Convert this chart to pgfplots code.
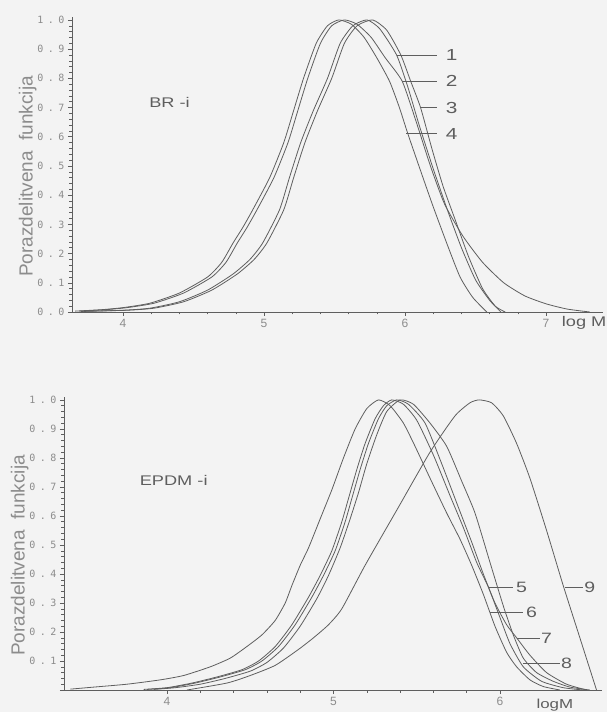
\documentclass[border=0pt]{standalone}
\usepackage{fontspec}
\setmainfont{Liberation Sans}
\newfontfamily\monofont{DejaVu Sans Mono}
\usepackage{graphicx}
\usepackage{pgfplots}
\pgfplotsset{compat=1.18}
\definecolor{bg}{HTML}{F3F3F3}
\definecolor{ink}{HTML}{5E5E5E}
\definecolor{lbl}{HTML}{8C8C8C}
\newcommand{\sx}[1]{\scalebox{1.3}[1]{#1}}
\newcommand{\yl}[2]{#1\hspace{4.5pt}.\hspace{4.5pt}#2}

\pgfplotsset{
 panel/.style={
  scale only axis, clip=false, enlargelimits=false,
  axis lines=left, axis line style={-, draw=ink, line width=0.7pt},
  tick align=outside, tick style={draw=ink, line width=0.5pt},
  major tick length=4pt, minor tick length=2.5pt,
  minor x tick num=4,
  /pgf/number format/assume math mode=true,
  xticklabel style={font=\fontsize{12}{12}\selectfont, text=lbl},
  yticklabel style={font=\monofont\fontsize{10}{10}\selectfont, text=lbl},
  ylabel style={font=\fontsize{19}{19}\selectfont, text=lbl, xshift=-12pt, yshift=-6pt},
  ylabel={Porazdelitvena\ \ funkcija},
 },
 crv/.style={draw=ink, line width=0.8pt, smooth, tension=0.35, mark=none},
}

\begin{document}
\begin{tikzpicture}
\fill[bg] (0pt,0pt) rectangle (607pt,712pt);
\path[use as bounding box] (0pt,0pt) rectangle (607pt,712pt);

% ---------------- BR-i ----------------
\begin{axis}[panel, at={(72pt,400pt)}, anchor=south west,
  width=531pt, height=295pt,
  xmin=3.638, xmax=7.404, ymin=0, ymax=1.01,
  xtick={4,5,6,7},
  ytick={0,0.1,0.2,0.3,0.4,0.5,0.6,0.7,0.8,0.9,1.0},
  yticklabels={\yl00,\yl01,\yl02,\yl03,\yl04,\yl05,\yl06,\yl07,\yl08,\yl09,\yl10},
  minor y tick num=4]
% curve 1
\addplot[crv] coordinates {(3.70,0.002)(4.00,0.006)(4.19,0.013)(4.40,0.035)(4.60,0.075)(4.78,0.13)(4.90,0.18)(4.99,0.236)(5.11,0.35)(5.18,0.46)(5.26,0.58)(5.35,0.69)(5.45,0.80)(5.54,0.92)(5.63,0.98)(5.73,1.00)(5.82,0.97)(5.94,0.88)(6.02,0.77)(6.10,0.64)(6.20,0.49)(6.30,0.35)(6.40,0.22)(6.50,0.11)(6.60,0.04)(6.68,0.00)};
% curve 2
\addplot[crv] coordinates {(3.69,0.003)(3.88,0.008)(4.03,0.015)(4.22,0.030)(4.43,0.065)(4.63,0.120)(4.73,0.170)(4.81,0.236)(4.88,0.290)(4.95,0.350)(5.07,0.460)(5.17,0.580)(5.24,0.690)(5.31,0.800)(5.40,0.920)(5.48,0.980)(5.57,1.000)(5.66,0.985)(5.76,0.94)(5.86,0.87)(5.98,0.79)(6.08,0.65)(6.18,0.50)(6.28,0.37)(6.41,0.26)(6.55,0.17)(6.70,0.10)(6.85,0.055)(7.00,0.028)(7.15,0.010)(7.31,0.000)};
% curve 3
\addplot[crv] coordinates {(3.72,0.002)(4.03,0.006)(4.22,0.013)(4.43,0.035)(4.63,0.075)(4.81,0.13)(4.93,0.18)(5.02,0.236)(5.14,0.35)(5.21,0.46)(5.29,0.58)(5.38,0.69)(5.48,0.80)(5.57,0.92)(5.66,0.98)(5.77,1.00)(5.87,0.965)(5.97,0.88)(6.04,0.79)(6.11,0.70)(6.19,0.56)(6.27,0.43)(6.36,0.31)(6.45,0.19)(6.55,0.08)(6.64,0.02)(6.71,0.00)};
% curve 4
\addplot[crv] coordinates {(3.66,0.003)(3.85,0.008)(4.00,0.015)(4.19,0.030)(4.40,0.065)(4.60,0.120)(4.70,0.170)(4.78,0.236)(4.85,0.290)(4.92,0.350)(5.04,0.460)(5.14,0.580)(5.21,0.690)(5.28,0.800)(5.37,0.920)(5.45,0.980)(5.53,1.000)(5.62,0.985)(5.71,0.94)(5.80,0.87)(5.89,0.79)(5.96,0.70)(6.02,0.61)(6.12,0.47)(6.20,0.36)(6.30,0.23)(6.39,0.12)(6.48,0.05)(6.58,0.00)};
% leaders and labels
\draw[ink, line width=0.7pt] (axis cs:5.94,0.88) -- (axis cs:6.23,0.88);
\draw[ink, line width=0.7pt] (axis cs:5.98,0.79) -- (axis cs:6.23,0.79);
\draw[ink, line width=0.7pt] (axis cs:6.11,0.70) -- (axis cs:6.23,0.70);
\draw[ink, line width=0.7pt] (axis cs:6.01,0.61) -- (axis cs:6.23,0.61);
\node[font=\fontsize{16}{16}\selectfont, text=ink] at (axis cs:6.33,0.88) {\sx{1}};
\node[font=\fontsize{16}{16}\selectfont, text=ink] at (axis cs:6.33,0.79) {\sx{2}};
\node[font=\fontsize{16}{16}\selectfont, text=ink] at (axis cs:6.33,0.70) {\sx{3}};
\node[font=\fontsize{16}{16}\selectfont, text=ink] at (axis cs:6.33,0.61) {\sx{4}};
\node[font=\fontsize{14}{14}\selectfont, text=ink] at (axis cs:4.33,0.716) {\sx{BR -i}};
\node[font=\fontsize{14}{14}\selectfont, text=ink] at (axis cs:7.27,-0.038) {\sx{log M}};
\end{axis}

% ---------------- EPDM-i ----------------
\begin{axis}[panel, at={(64pt,22pt)}, anchor=south west,
  width=538pt, height=293pt,
  xmin=3.381, xmax=6.613, ymin=0, ymax=1.01,
  xtick={4,5,6},
  ytick={0,0.1,0.2,0.3,0.4,0.5,0.6,0.7,0.8,0.9,1.0},
  yticklabels={,\yl01,\yl02,\yl03,\yl04,\yl05,\yl06,\yl07,\yl08,\yl09,\yl10},
  minor y tick num=4]
% curve 5
\addplot[crv] coordinates {(3.42,0.003)(3.56,0.010)(3.76,0.020)(3.96,0.035)(4.10,0.050)(4.26,0.080)(4.38,0.110)(4.48,0.150)(4.57,0.190)(4.65,0.240)(4.71,0.300)(4.75,0.360)(4.80,0.430)(4.85,0.490)(4.92,0.590)(4.99,0.690)(5.06,0.800)(5.13,0.900)(5.20,0.970)(5.27,1.000)(5.34,0.980)(5.42,0.920)(5.49,0.840)(5.58,0.730)(5.68,0.610)(5.76,0.520)(5.83,0.430)(5.90,0.330)(5.97,0.220)(6.04,0.130)(6.10,0.080)(6.18,0.035)(6.26,0.012)(6.36,0.000)};
% curve 6
\addplot[crv] coordinates {(3.86,0.002)(4.00,0.008)(4.15,0.024)(4.30,0.045)(4.45,0.070)(4.55,0.100)(4.65,0.150)(4.75,0.225)(4.85,0.320)(4.92,0.395)(4.99,0.480)(5.05,0.580)(5.09,0.660)(5.14,0.760)(5.19,0.850)(5.25,0.935)(5.30,0.980)(5.35,1.000)(5.42,0.985)(5.50,0.930)(5.60,0.810)(5.70,0.670)(5.78,0.560)(5.86,0.440)(5.93,0.355)(6.00,0.250)(6.06,0.160)(6.14,0.080)(6.25,0.030)(6.38,0.008)(6.50,0.000)};
% curve 7
\addplot[crv] coordinates {(3.88,0.002)(4.02,0.008)(4.17,0.024)(4.32,0.045)(4.47,0.070)(4.57,0.100)(4.67,0.150)(4.77,0.225)(4.87,0.320)(4.94,0.395)(5.01,0.480)(5.07,0.580)(5.11,0.660)(5.16,0.760)(5.21,0.850)(5.27,0.935)(5.32,0.980)(5.38,1.000)(5.45,0.985)(5.55,0.920)(5.65,0.780)(5.75,0.630)(5.83,0.510)(5.90,0.400)(5.97,0.300)(6.04,0.225)(6.10,0.180)(6.18,0.120)(6.28,0.060)(6.40,0.020)(6.52,0.000)};
% curve 8
\addplot[crv] coordinates {(3.92,0.002)(4.05,0.008)(4.20,0.020)(4.35,0.040)(4.50,0.065)(4.60,0.095)(4.70,0.145)(4.80,0.220)(4.90,0.315)(4.97,0.395)(5.04,0.490)(5.10,0.590)(5.15,0.680)(5.20,0.780)(5.26,0.880)(5.32,0.960)(5.40,1.000)(5.48,0.985)(5.58,0.920)(5.68,0.840)(5.77,0.720)(5.85,0.610)(5.94,0.440)(6.02,0.290)(6.08,0.190)(6.14,0.110)(6.22,0.060)(6.32,0.030)(6.42,0.010)(6.54,0.000)};
% curve 9
\addplot[crv] coordinates {(4.12,0.000)(4.36,0.024)(4.50,0.050)(4.65,0.085)(4.79,0.140)(4.88,0.180)(4.97,0.225)(5.05,0.280)(5.19,0.430)(5.39,0.630)(5.58,0.820)(5.73,0.945)(5.82,0.990)(5.875,1.000)(5.95,0.990)(6.02,0.945)(6.10,0.850)(6.18,0.730)(6.28,0.550)(6.38,0.360)(6.48,0.180)(6.58,0.000)};
% leaders and labels
\draw[ink, line width=0.7pt] (axis cs:5.93,0.355) -- (axis cs:6.08,0.355);
\draw[ink, line width=0.7pt] (axis cs:5.94,0.269) -- (axis cs:6.14,0.269);
\draw[ink, line width=0.7pt] (axis cs:6.10,0.179) -- (axis cs:6.24,0.179);
\draw[ink, line width=0.7pt] (axis cs:6.14,0.093) -- (axis cs:6.36,0.093);
\draw[ink, line width=0.7pt] (axis cs:6.39,0.355) -- (axis cs:6.50,0.355);
\node[font=\fontsize{15}{15}\selectfont, text=ink] at (axis cs:6.13,0.355) {\sx{5}};
\node[font=\fontsize{15}{15}\selectfont, text=ink] at (axis cs:6.19,0.269) {\sx{6}};
\node[font=\fontsize{15}{15}\selectfont, text=ink] at (axis cs:6.28,0.179) {\sx{7}};
\node[font=\fontsize{15}{15}\selectfont, text=ink] at (axis cs:6.40,0.093) {\sx{8}};
\node[font=\fontsize{15}{15}\selectfont, text=ink] at (axis cs:6.54,0.355) {\sx{9}};
\node[font=\fontsize{14}{14}\selectfont, text=ink] at (axis cs:4.04,0.724) {\sx{EPDM -i}};
\node[font=\fontsize{13}{13}\selectfont, text=ink] at (axis cs:6.33,-0.052) {\sx{logM}};
\end{axis}
\end{tikzpicture}
\end{document}
